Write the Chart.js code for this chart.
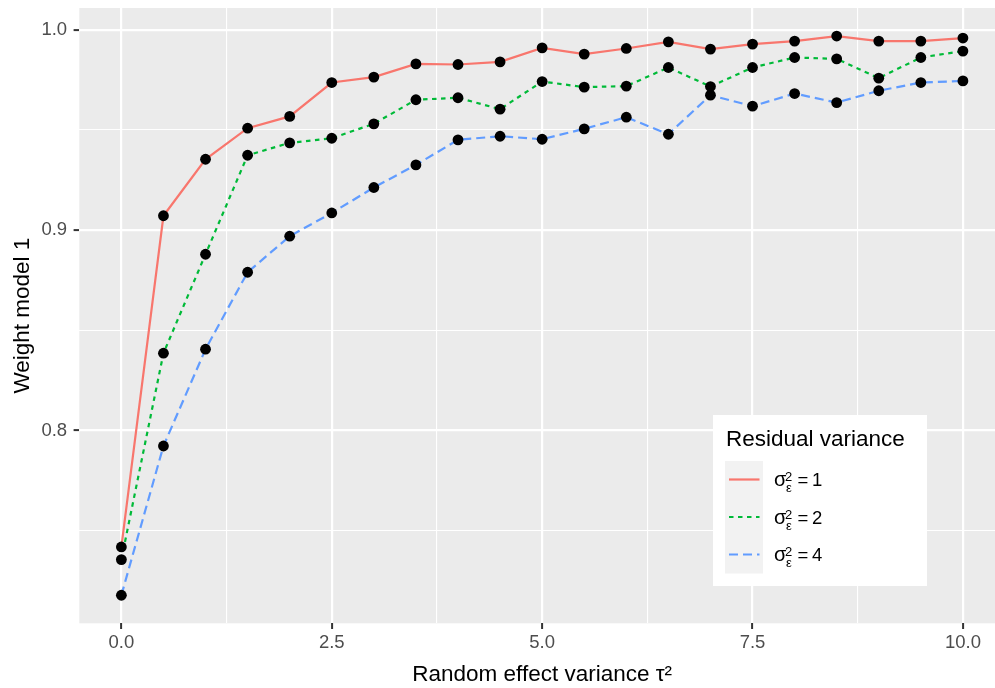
<!DOCTYPE html>
<html>
<head>
<meta charset="utf-8">
<script src="https://cdn.jsdelivr.net/npm/chart.js@4.4.0/dist/chart.umd.min.js"></script>
<style>
  html, body { margin: 0; padding: 0; background: #ffffff; overflow: hidden; }
  #wrap { width: 1005px; height: 688px; }
</style>
</head>
<body>
<div id="wrap"><canvas id="grafico" width="1005" height="688"></canvas></div>
<script>
// dados
const tau2 = [0, 0.5, 1, 1.5, 2, 2.5, 3, 3.5, 4, 4.5, 5, 5.5, 6, 6.5, 7, 7.5, 8, 8.5, 9, 9.5, 10];
const pesoSigma1 = [0.7419, 0.9072, 0.9354, 0.9509, 0.9568, 0.9737, 0.9764, 0.9830, 0.9827, 0.9840, 0.9910,
    0.9879, 0.9907, 0.9940, 0.9904, 0.9929, 0.9944, 0.9969, 0.9944, 0.9944, 0.9959];
const pesoSigma2 = [0.7356, 0.8386, 0.8880, 0.9374, 0.9436, 0.9459, 0.9531, 0.9651, 0.9661, 0.9604, 0.9742,
    0.9714, 0.9719, 0.9812, 0.9717, 0.9812, 0.9862, 0.9855, 0.9759, 0.9862, 0.9894];
const pesoSigma4 = [0.7178, 0.7923, 0.8406, 0.8790, 0.8970, 0.9086, 0.9213, 0.9326, 0.9451, 0.9469, 0.9454,
    0.9506, 0.9564, 0.9479, 0.9674, 0.9619, 0.9682, 0.9637, 0.9696, 0.9737, 0.9745];
const legendaValores = ['1', '2', '4'];
const xTickVals = [0, 1.25, 2.5, 3.75, 5, 6.25, 7.5, 8.75, 10];
const xTickLabels = ['0.0', '', '2.5', '', '5.0', '', '7.5', '', '10.0'];
const yTickVals = [0.75, 0.8, 0.85, 0.9, 0.95, 1.0];
const yTickLabels = ['', '0.8', '', '0.9', '', '1.0'];

const cores = ['#F8766D', '#00BA38', '#619CFF'];
const tracos = [[], [4.5, 4.5], [9, 5]];
const fonte = "'Liberation Sans', Arial, sans-serif";

function pontos(valores) {
    return tau2.map((t, i) => ({ x: t, y: valores[i] }));
}

const series = [pesoSigma1, pesoSigma2, pesoSigma4];
let datasets = [];
for (let i = 0; i < series.length; i++) {
    datasets.push({
        data: pontos(series[i]),
        borderColor: cores[i],
        borderWidth: 2.2,
        borderDash: tracos[i],
        pointRadius: 0,
        fill: false,
        tension: 0,
        order: 3 - i
    });
}
for (let i = 0; i < series.length; i++) {
    datasets.push({
        data: pontos(series[i]),
        showLine: false,
        pointRadius: 5.4,
        pointBorderWidth: 0,
        pointBackgroundColor: '#000000',
        pointBorderColor: '#000000',
        order: 0
    });
}

const fundoPainel = {
    id: 'fundoPainel',
    beforeDraw(chart) {
        const { ctx, chartArea: a } = chart;
        ctx.save();
        ctx.fillStyle = '#EBEBEB';
        ctx.fillRect(a.left, a.top, a.right - a.left, a.bottom - a.top);
        ctx.restore();
    }
};

// legenda desenhada no estilo do ggplot
const legenda = {
    id: 'legenda',
    afterDraw(chart) {
        const ctx = chart.ctx;
        ctx.save();
        ctx.fillStyle = '#FFFFFF';
        ctx.fillRect(713, 415, 214, 171);
        ctx.fillStyle = '#000000';
        ctx.font = '22.5px ' + fonte;
        ctx.textBaseline = 'alphabetic';
        ctx.textAlign = 'left';
        ctx.fillText('Residual variance', 726, 445.5);
        ctx.fillStyle = '#F2F2F2';
        ctx.fillRect(725, 461, 38, 112.5);
        for (let i = 0; i < 3; i++) {
            const yc = 479.5 + i * 37.5;
            ctx.strokeStyle = cores[i];
            ctx.lineWidth = 2.2;
            ctx.setLineDash(tracos[i]);
            ctx.beginPath();
            ctx.moveTo(729, yc);
            ctx.lineTo(759.5, yc);
            ctx.stroke();
            ctx.setLineDash([]);
            ctx.fillStyle = '#000000';
            const base = yc + 6.5;
            ctx.font = '20px ' + fonte;
            ctx.fillText('σ', 774, base);
            ctx.font = '13px ' + fonte;
            ctx.fillText('2', 785, base - 5);
            ctx.fillText('ε', 786, base + 6);
            ctx.font = '18.5px ' + fonte;
            ctx.fillText('=', 797.5, base);
            ctx.fillText(legendaValores[i], 812, base);
        }
        ctx.restore();
    }
};

const config = {
    type: 'line',
    data: { datasets: datasets },
    options: {
        responsive: false,
        animation: false,
        devicePixelRatio: 1,
        layout: { autoPadding: false, padding: { top: 8, right: 0, left: 0, bottom: 0 } },
        plugins: { legend: { display: false }, tooltip: { enabled: false } },
        scales: {
            x: {
                type: 'linear',
                min: -0.5,
                max: 10.5,
                afterBuildTicks: (eixo) => { eixo.ticks = xTickVals.map(v => ({ value: v })); },
                afterFit: (eixo) => {
                    eixo.height = 64.7;
                    eixo.paddingLeft = 0;
                    eixo.paddingRight = 0;
                },
                border: { display: false },
                grid: {
                    color: '#FFFFFF',
                    lineWidth: (c) => xTickLabels[c.index] === '' ? 1.1 : 2.2,
                    tickColor: (c) => xTickLabels[c.index] === '' ? 'rgba(0,0,0,0)' : '#333333',
                    tickWidth: 2,
                    tickLength: 5.7
                },
                ticks: {
                    autoSkip: false,
                    maxRotation: 0,
                    padding: 3,
                    color: '#4D4D4D',
                    font: { family: fonte, size: 18.5 },
                    callback: (v, i) => xTickLabels[i]
                },
                title: {
                    display: true,
                    text: 'Random effect variance τ²',
                    color: '#000000',
                    font: { family: fonte, size: 22.5, lineHeight: 1.2 },
                    padding: { top: 0, bottom: 0 }
                }
            },
            y: {
                type: 'linear',
                min: 0.7038,
                max: 1.0109,
                afterBuildTicks: (eixo) => { eixo.ticks = yTickVals.map(v => ({ value: v })); },
                afterFit: (eixo) => {
                    eixo.width = 79.3;
                    eixo.paddingTop = 0;
                    eixo.paddingBottom = 0;
                },
                border: { display: false },
                grid: {
                    color: '#FFFFFF',
                    lineWidth: (c) => yTickLabels[c.index] === '' ? 1.1 : 2.2,
                    tickColor: (c) => yTickLabels[c.index] === '' ? 'rgba(0,0,0,0)' : '#333333',
                    tickWidth: 2,
                    tickLength: 5.7
                },
                ticks: {
                    autoSkip: false,
                    padding: 6.5,
                    color: '#4D4D4D',
                    font: { family: fonte, size: 18.5 },
                    callback: (v, i) => yTickLabels[i]
                },
                title: {
                    display: true,
                    text: 'Weight model 1',
                    color: '#000000',
                    font: { family: fonte, size: 22.5, lineHeight: 1.2 },
                    padding: { top: 9.5, bottom: 0 }
                }
            }
        }
    },
    plugins: [fundoPainel, legenda]
};

var ctx = document.getElementById('grafico').getContext('2d');
let meuGrafico = new Chart(ctx, config);
</script>
</body>
</html>
